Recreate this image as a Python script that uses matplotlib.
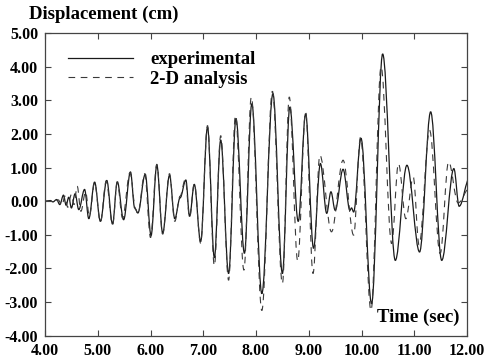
import matplotlib
matplotlib.use("Agg")
import matplotlib.pyplot as plt
from matplotlib.path import Path
from matplotlib.patches import PathPatch
from matplotlib.lines import Line2D

# experimental record: extrema (time s, displacement cm)
exp_t = [4.00, 4.10, 4.15, 4.22, 4.28, 4.35, 4.40, 4.45, 4.50, 4.57, 4.64, 4.75,
         4.83, 4.94, 5.05, 5.17, 5.28, 5.37, 5.49, 5.62, 5.70, 5.76, 5.90, 6.01,
         6.12, 6.23, 6.36, 6.46, 6.56, 6.67, 6.74, 6.83, 6.95, 7.08, 7.21, 7.33,
         7.48, 7.62, 7.78, 7.92, 8.11, 8.32, 8.50, 8.64, 8.80, 8.94, 9.09, 9.22,
         9.34, 9.42, 9.50, 9.65, 9.78, 9.81, 9.85, 9.99, 10.19, 10.40,
         10.64, 10.86, 11.10, 11.31, 11.52, 11.75, 11.85, 12.05]
exp_d = [0.00, 0.02, -0.02, 0.05, -0.10, 0.18, -0.12, 0.12, -0.20, 0.22, -0.25, 0.35,
         -0.52, 0.57, -0.60, 0.62, -0.68, 0.58, -0.55, 0.87, -0.20, -0.35, 0.80, -1.02,
         1.07, -0.95, 0.77, -0.52, 0.10, 0.63, -0.45, 0.50, -1.20, 2.20, -1.68, 1.82,
         -2.15, 2.46, -1.55, 2.90, -2.75, 3.20, -2.15, 2.80, -0.60, 2.60, -1.40, 1.12,
         -0.36, 0.28, -0.27, 0.95, -0.27, -0.20, -0.32, 1.87, -3.05, 4.38,
         -1.76, 1.07, -1.51, 2.66, -1.76, 0.97, -0.15, 0.70]

# 2-D analysis
ana_t = [4.00, 4.10, 4.18, 4.25, 4.32, 4.38, 4.43, 4.50, 4.55, 4.61, 4.68, 4.77,
         4.84, 4.94, 5.05, 5.16, 5.28, 5.37, 5.47, 5.61, 5.72, 5.76, 5.89, 6.00,
         6.12, 6.23, 6.36, 6.46, 6.56, 6.66, 6.74, 6.83, 6.95, 7.08, 7.21, 7.33,
         7.48, 7.61, 7.77, 7.91, 8.11, 8.31, 8.50, 8.63, 8.79, 8.94, 9.08, 9.21,
         9.43, 9.65, 9.85, 9.98, 10.18, 10.37, 10.57, 10.70, 10.84,
         10.98, 11.09, 11.29, 11.49, 11.65, 11.83, 12.05]
ana_d = [0.00, 0.00, -0.03, 0.04, -0.12, 0.15, -0.18, 0.20, -0.10, 0.45, -0.30, 0.28,
         -0.45, 0.55, -0.62, 0.60, -0.70, 0.55, -0.50, 0.85, -0.25, -0.38, 0.82, -1.08,
         1.10, -0.98, 0.82, -0.60, 0.15, 0.65, -0.48, 0.52, -1.25, 2.25, -1.92, 1.95,
         -2.35, 2.55, -2.05, 3.10, -3.25, 3.27, -2.45, 3.10, -1.78, 2.66, -2.15, 1.37,
         -0.91, 1.22, -1.01, 1.90, -3.25, 4.00, -1.26, 1.12, -0.52,
         0.72, -1.30, 2.11, -1.56, 1.17, -0.05, 0.40]

x_ticks = [4, 5, 6, 7, 8, 9, 10, 11, 12]
y_ticks = [-4, -3, -2, -1, 0, 1, 2, 3, 4, 5]


def smooth_path(t, d, k=0.36):
    # cubic segments with flat tangents at each read extremum
    verts = [(t[0], d[0])]
    codes = [Path.MOVETO]
    for i in range(1, len(t)):
        dt = t[i] - t[i - 1]
        verts += [(t[i - 1] + k * dt, d[i - 1]), (t[i] - k * dt, d[i]), (t[i], d[i])]
        codes += [Path.CURVE4] * 3
    return Path(verts, codes)


plt.rcParams['font.family'] = 'Liberation Serif'
plt.rcParams['font.weight'] = 'bold'

fig = plt.figure(figsize=(4.84, 3.6), dpi=100)
ax = fig.add_axes([0.093, 0.0675, 0.872, 0.8405])

solid = dict(color='#1a1a1a', lw=0.9)
dashed = dict(color='#3a3a3a', lw=0.8, linestyle=(0, (6, 5)))

ax.add_patch(PathPatch(smooth_path(exp_t, exp_d), fill=False, **solid))
ax.add_patch(PathPatch(smooth_path(ana_t, ana_d), fill=False, **dashed))

ax.set_xlim(4, 12)
ax.set_ylim(-4, 5)
ax.set_xticks(x_ticks)
ax.set_yticks(y_ticks)
ax.set_xticklabels(['%.2f' % v for v in x_ticks])
ax.set_yticklabels(['%.2f' % v for v in y_ticks])
ax.tick_params(direction='in', length=4, width=0.8, top=True, right=True,
               labelsize=11.5, color='#444444', pad=5)
for lab in ax.get_xticklabels() + ax.get_yticklabels():
    lab.set_fontweight('bold')
for s in ax.spines.values():
    s.set_color('#444444')
    s.set_linewidth(0.9)

handles = [Line2D([], [], **solid), Line2D([], [], **dashed)]
ax.legend(handles, ['experimental', '2-D analysis'], loc='upper left',
          bbox_to_anchor=(0.054, 0.94), frameon=False, borderpad=0,
          borderaxespad=0, prop={'weight': 'bold', 'size': 13.5},
          handlelength=3.5, handletextpad=0.9, labelspacing=0.12)

fig.text(0.06, 0.961, 'Displacement (cm)', fontsize=13.5, fontweight='bold',
         va='center', ha='left')
ax.text(0.981, 0.062, 'Time (sec)', transform=ax.transAxes, fontsize=13.5,
        fontweight='bold', ha='right', va='center')

fig.savefig('out.png', dpi=100)
